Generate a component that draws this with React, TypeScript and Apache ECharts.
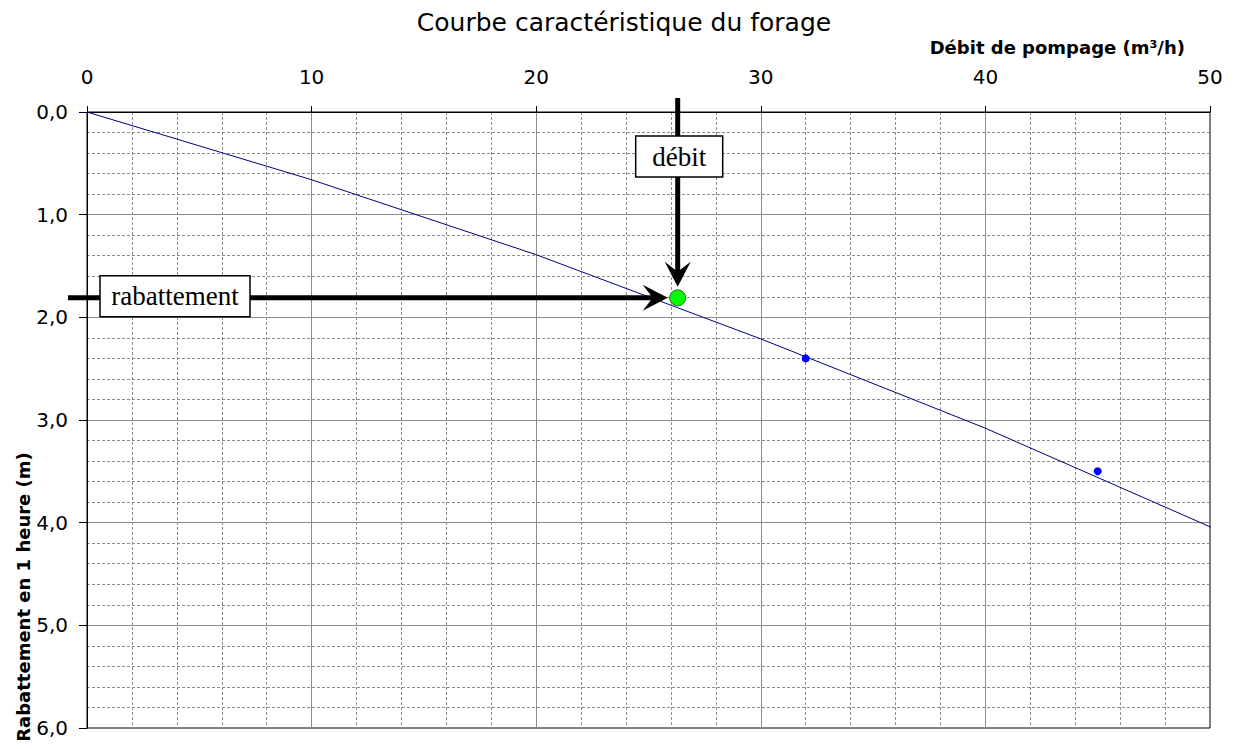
import React, { useEffect, useRef } from "react";
import * as echarts from "echarts";

// Characteristic curve of the borehole
const CURVE_Q = [0, 10, 20, 30, 40, 50, 50.4];
const CURVE_S = [0, 0.66, 1.39, 2.21, 3.08, 4.04, 4.08];
// Measured points
const MEAS_Q = [32, 45];
const MEAS_S = [2.4, 3.5];
// Operating point
const OP_Q = [26.3];
const OP_S = [1.81];

const TITLE = "Courbe caractéristique du forage";
const X_NAME = "Débit de pompage (m³/h)";
const Y_NAME = "Rabattement en 1 heure (m)";
const LABEL_DEBIT = "débit";
const LABEL_RAB = "rabattement";

const SANS = "DejaVu Sans";
const SERIF = "Liberation Serif";

export default function App() {
  const ref = useRef<HTMLDivElement>(null);
  useEffect(() => {
    if (!ref.current) return;
    const chart = echarts.init(ref.current, undefined, { renderer: "svg" });
    const gridLine = { show: true, lineStyle: { color: "#8c8c8c", width: 1 }, showMinLine: false, showMaxLine: false };
    const minorLine = { show: true, lineStyle: { color: "#8c8c8c", width: 1, type: [3, 2] as any } };
    const option: any = {
      animation: false,
      backgroundColor: "#fff",
      grid: { left: 87, top: 112, right: 24, bottom: 21, show: true, borderColor: "#000", borderWidth: 1, backgroundColor: "transparent" },
      xAxis: {
        type: "value",
        position: "top",
        min: 0,
        max: 50,
        interval: 10,
        axisLine: { show: true, lineStyle: { color: "#000", width: 1 } },
        axisTick: { show: true, inside: false, length: 6, lineStyle: { color: "#000" } },
        axisLabel: { color: "#000", fontFamily: SANS, fontSize: 20, margin: 25 },
        splitLine: gridLine,
        minorTick: { show: false, splitNumber: 5 },
        minorSplitLine: minorLine,
      },
      yAxis: {
        type: "value",
        inverse: true,
        min: 0,
        max: 6,
        interval: 1,
        axisLine: { show: true, lineStyle: { color: "#000", width: 1 } },
        axisTick: { show: true, inside: false, length: 8, lineStyle: { color: "#000" } },
        axisLabel: {
          color: "#000",
          fontFamily: SANS,
          fontSize: 20,
          margin: 19,
          formatter: (v: number) => v.toFixed(1).replace(".", ","),
        },
        splitLine: gridLine,
        minorTick: { show: false, splitNumber: 5 },
        minorSplitLine: minorLine,
      },
      series: [
        {
          type: "line",
          data: CURVE_Q.map((q, i) => [q, CURVE_S[i]]),
          showSymbol: false,
          symbol: "none",
          clip: false,
          lineStyle: { color: "#000080", width: 1 },
          z: 3,
        },
        {
          type: "scatter",
          data: MEAS_Q.map((q, i) => [q, MEAS_S[i]]),
          symbol: "circle",
          symbolSize: 8,
          itemStyle: { color: "#0000ff", opacity: 1 },
          z: 4,
        },
        {
          type: "scatter",
          data: OP_Q.map((q, i) => [q, OP_S[i]]),
          symbol: "circle",
          symbolSize: 16,
          itemStyle: { color: "#00ff00", borderColor: "#2f5f2f", borderWidth: 1, opacity: 1 },
          z: 6,
        },
      ],
    };
    chart.setOption(option);

    const [left, top] = chart.convertToPixel({ gridIndex: 0 }, [0, 0]) as number[];
    const [right] = chart.convertToPixel({ gridIndex: 0 }, [50, 0]) as number[];
    const [px, py] = chart.convertToPixel({ gridIndex: 0 }, [OP_Q[0], OP_S[0]]) as number[];

    const vTipY = py - 11;
    const hTipX = px - 10;
    const arrowLen = 25;
    const arrowHalf = 13;
    const notch = 15;
    const boxStyle = { fill: "#fff", stroke: "#000", lineWidth: 1.5 };

    const graphic: any[] = [
      {
        type: "text",
        x: 624,
        y: 22,
        style: { text: TITLE, fontFamily: SANS, fontSize: 25, fill: "#000", align: "center", verticalAlign: "middle" },
      },
      {
        type: "text",
        x: right - 25,
        y: 47,
        style: { text: X_NAME, fontFamily: SANS, fontWeight: "bold", fontSize: 18, fill: "#000", align: "right", verticalAlign: "middle" },
      },
      {
        type: "text",
        x: 23,
        y: 597,
        rotation: Math.PI / 2,
        style: { text: Y_NAME, fontFamily: SANS, fontWeight: "bold", fontSize: 18, fill: "#000", align: "center", verticalAlign: "middle" },
      },
      // vertical arrow (débit)
      {
        type: "line",
        z: 5,
        shape: { x1: px, y1: top - 14, x2: px, y2: vTipY - notch + 2 },
        style: { stroke: "#000", lineWidth: 5 },
      },
      {
        type: "polygon",
        z: 5,
        shape: {
          points: [
            [px, vTipY],
            [px - arrowHalf, vTipY - arrowLen],
            [px, vTipY - notch],
            [px + arrowHalf, vTipY - arrowLen],
          ],
        },
        style: { fill: "#000" },
      },
      // horizontal arrow (rabattement)
      {
        type: "line",
        z: 5,
        shape: { x1: left - 19, y1: py, x2: hTipX - notch + 2, y2: py },
        style: { stroke: "#000", lineWidth: 5 },
      },
      {
        type: "polygon",
        z: 5,
        shape: {
          points: [
            [hTipX, py],
            [hTipX - arrowLen, py - arrowHalf],
            [hTipX - notch, py],
            [hTipX - arrowLen, py + arrowHalf],
          ],
        },
        style: { fill: "#000" },
      },
      // débit box
      {
        type: "rect",
        z: 7,
        shape: { x: px - 42, y: top + 24, width: 87, height: 41 },
        style: boxStyle,
      },
      {
        type: "text",
        z: 8,
        x: px + 1.5,
        y: top + 44.5,
        style: { text: LABEL_DEBIT, fontFamily: SERIF, fontSize: 27, fill: "#000", align: "center", verticalAlign: "middle" },
      },
      // rabattement box
      {
        type: "rect",
        z: 7,
        shape: { x: left + 13, y: py - 22, width: 150, height: 41 },
        style: boxStyle,
      },
      {
        type: "text",
        z: 8,
        x: left + 88,
        y: py - 1.5,
        style: { text: LABEL_RAB, fontFamily: SERIF, fontSize: 27, fill: "#000", align: "center", verticalAlign: "middle" },
      },
    ];
    chart.setOption({ graphic });

    return () => chart.dispose();
  }, []);

  return <div ref={ref} style={{ position: "fixed", left: 0, top: 0, width: 1234, height: 749 }} />;
}
